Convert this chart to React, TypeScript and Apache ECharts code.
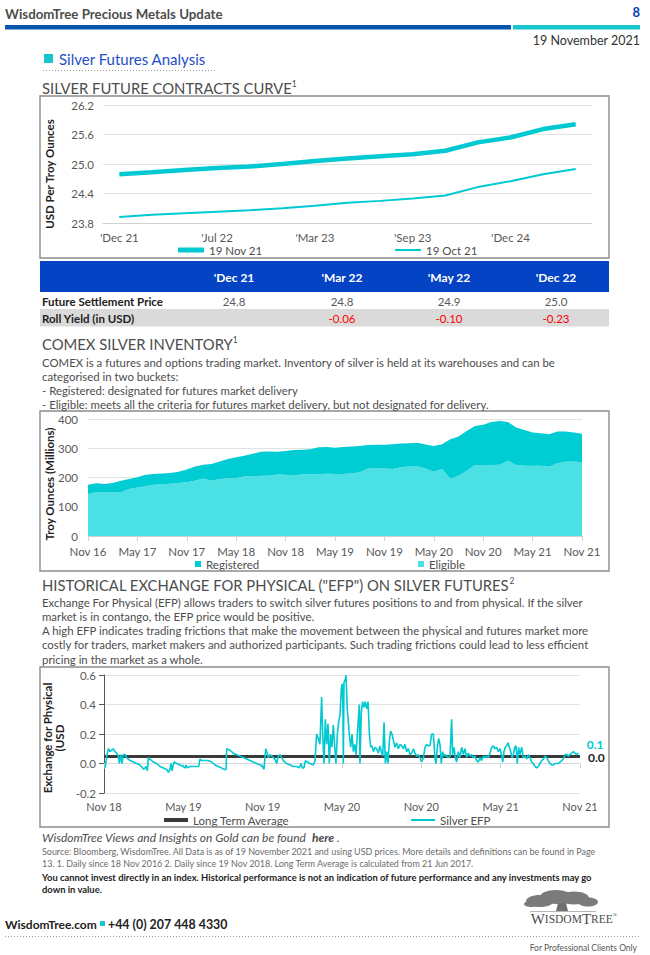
import React, { useEffect, useRef } from "react";
import * as echarts from "echarts";

// ---------- DATA ----------
const contractMonths = ["'Dec 21", "'Mar 22", "'May 22", "'Jul 22", "'Sep 22", "'Dec 22", "'Mar 23", "'May 23", "'Jul 23", "'Sep 23", "'Dec 23", "'Jul 24", "'Dec 24", "'Jul 25", "'Dec 25"];
const curveNov19 = [24.79, 24.83, 24.88, 24.92, 24.95, 25.0, 25.06, 25.11, 25.16, 25.2, 25.27, 25.44, 25.54, 25.71, 25.81];
const curveOct19 = [23.92, 23.97, 24.0, 24.03, 24.06, 24.1, 24.15, 24.21, 24.25, 24.3, 24.36, 24.53, 24.65, 24.79, 24.9];

const tableCols = ["'Dec 21", "'Mar 22", "'May 22", "'Dec 22"];
const settlePrice = [24.8, 24.8, 24.9, 25.0];
const rollYield = [null, -0.06, -0.1, -0.23];

const eligible = [144, 150, 150, 150, 150, 161, 166, 170, 175, 177, 179, 181, 184, 189, 197, 189, 195, 197, 198, 203, 204, 206, 206, 210, 209, 206, 211, 211, 211, 213, 212, 212, 214, 218, 231, 232, 231, 229, 235, 238, 238, 231, 220, 229, 196, 206, 223, 243, 240, 243, 244, 257, 243, 240, 240, 240, 237, 249, 254, 255, 252];
const registered = [31, 30, 28, 31, 39, 34, 35, 39, 37, 37, 36, 39, 43, 49, 47, 57, 60, 66, 71, 71, 77, 82, 83, 78, 82, 88, 84, 86, 92, 91, 90, 92, 92, 90, 80, 80, 81, 85, 81, 79, 81, 82, 88, 85, 135, 134, 136, 133, 140, 147, 149, 133, 128, 122, 114, 111, 111, 108, 103, 99, 98];

const efpTickLabels = ["Nov 18", "May 19", "Nov 19", "May 20", "Nov 20", "May 21", "Nov 21"];
const longTermAverage = 0.047;
// [months since 18 Nov 2018, EFP in USD]
const silverEfp = [
  [0.08, -0.03], [0.15, 0.01], [0.25, 0.07], [0.33, 0.1], [0.45, 0.08], [0.71, 0.1], [0.83, 0.08], [0.96, 0.07], [1.08, 0.05], [1.16, 0.0], [1.26, 0.06], [1.36, 0.0], [1.46, 0.06], [1.59, 0.06], [1.71, 0.04], [1.97, 0.02], [2.22, 0.01], [2.47, 0.0], [2.72, -0.01], [2.92, -0.03], [3.02, -0.04], [3.18, -0.02], [3.28, -0.05], [3.35, 0.04], [3.48, 0.03], [3.73, 0.01], [3.98, 0.0], [4.23, -0.02], [4.49, -0.03], [4.74, -0.04], [4.87, -0.06], [4.99, -0.04], [5.07, 0.0], [5.14, -0.05], [5.29, 0.01], [5.5, 0.0], [5.75, -0.01], [6.0, -0.02], [6.13, -0.03], [6.2, -0.01], [6.3, -0.03], [6.5, -0.02], [6.88, -0.02], [7.16, -0.02], [7.26, 0.03], [7.39, 0.02], [7.64, 0.02], [7.89, 0.02], [8.14, 0.01], [8.39, -0.01], [8.65, -0.02], [8.9, -0.03], [9.07, -0.04], [9.23, -0.04], [9.28, 0.1], [9.53, 0.09], [9.78, 0.07], [10.03, 0.06], [10.28, 0.05], [10.54, 0.04], [10.79, 0.03], [11.04, 0.02], [11.29, 0.01], [11.55, 0.0], [11.8, -0.01], [12.0, -0.02], [12.1, -0.04], [12.23, 0.1], [12.35, 0.07], [12.43, 0.04], [12.55, 0.06], [12.68, 0.05], [12.81, 0.04], [12.93, 0.03], [13.06, 0.0], [13.18, 0.05], [13.31, 0.06], [13.44, 0.04], [13.56, 0.02], [13.81, 0.0], [14.07, -0.01], [14.32, -0.02], [14.57, -0.02], [14.77, -0.03], [14.9, 0.0], [15.0, -0.03], [15.12, -0.03], [15.23, 0.02], [15.38, 0.01], [15.58, 0.0], [15.83, -0.01], [15.96, 0.02],
  [16.08, 0.2], [16.21, 0.17], [16.33, 0.13], [16.46, 0.45], [16.54, 0.2], [16.64, 0.0], [16.74, 0.3], [16.84, 0.13], [16.94, 0.27], [17.04, 0.0], [17.14, 0.2], [17.24, 0.11], [17.34, 0.26], [17.44, 0.13], [17.54, 0.0], [17.65, 0.2], [17.75, 0.28], [17.85, 0.33], [17.95, 0.51], [18.02, 0.54], [18.07, 0.37], [18.1, 0.0], [18.15, 0.55], [18.25, 0.57], [18.3, 0.6], [18.4, 0.37], [18.55, 0.2], [18.66, 0.11], [18.76, 0.2], [18.86, 0.08], [18.96, 0.13], [19.06, 0.06], [19.16, 0.2], [19.26, 0.33], [19.31, 0.4], [19.36, 0.0], [19.46, 0.35], [19.56, 0.42], [19.66, 0.38], [19.76, 0.42], [19.87, 0.37], [19.97, 0.42], [20.07, 0.2], [20.17, 0.11], [20.27, 0.12], [20.37, 0.08], [20.5, 0.11], [20.62, 0.1], [20.75, 0.07], [20.87, 0.12], [20.97, 0.08], [21.08, 0.05], [21.18, 0.28], [21.28, 0.0], [21.38, 0.08], [21.48, 0.0], [21.58, 0.15], [21.68, 0.22], [21.78, 0.2], [21.88, 0.16], [22.01, 0.11], [22.13, 0.14], [22.26, 0.1], [22.39, 0.13], [22.51, 0.12], [22.64, 0.1], [22.76, 0.13], [22.89, 0.08], [23.02, 0.1], [23.14, 0.06], [23.27, 0.07], [23.4, 0.1], [23.52, 0.07], [23.65, 0.05], [23.77, 0.06], [23.9, 0.04], [24.02, 0.01], [24.15, 0.04], [24.28, 0.11], [24.4, 0.13], [24.53, 0.12], [24.65, 0.12], [24.78, 0.2], [24.91, 0.2], [25.03, 0.04], [25.11, 0.0], [25.21, 0.11], [25.31, 0.17], [25.41, 0.13], [25.51, 0.0], [25.61, 0.08], [25.71, 0.05], [25.81, 0.06], [25.91, 0.05], [26.04, 0.04], [26.17, 0.05], [26.29, 0.3], [26.37, 0.06], [26.47, 0.11], [26.57, 0.04], [26.67, 0.01], [26.8, 0.08], [26.92, 0.04], [27.05, 0.11], [27.18, 0.06], [27.3, 0.1], [27.43, 0.04], [27.55, 0.07], [27.68, 0.05], [27.81, 0.06], [27.93, 0.04], [28.06, 0.05], [28.18, 0.02], [28.31, 0.01], [28.44, 0.04], [28.56, 0.02], [28.69, 0.05], [28.81, 0.04], [28.94, 0.05], [29.07, 0.04], [29.19, 0.07], [29.32, 0.11], [29.45, 0.12], [29.57, 0.1], [29.7, 0.11], [29.82, 0.08], [29.95, 0.1], [30.08, 0.05], [30.15, 0.01], [30.25, 0.08], [30.35, 0.11], [30.45, 0.12], [30.55, 0.14], [30.66, 0.11], [30.76, 0.08], [30.86, 0.04], [30.96, 0.06], [31.06, 0.11], [31.16, 0.12], [31.26, 0.0], [31.36, 0.11], [31.46, 0.06], [31.59, 0.11], [31.71, 0.04], [31.84, 0.05], [31.97, 0.03], [32.09, 0.06], [32.22, 0.04], [32.34, 0.01], [32.47, 0.0], [32.6, -0.02], [32.72, -0.03], [32.85, -0.02], [32.97, 0.0], [33.1, 0.02], [33.23, 0.03], [33.35, 0.05], [33.48, 0.04], [33.6, 0.02], [33.73, 0.0], [33.86, -0.01], [33.98, -0.01], [34.11, 0.0], [34.23, 0.0], [34.36, 0.0], [34.49, 0.01], [34.61, 0.02], [34.74, 0.03], [34.86, 0.06], [34.99, 0.06], [35.12, 0.05], [35.24, 0.06], [35.37, 0.07], [35.5, 0.08], [35.62, 0.07], [35.75, 0.06], [35.9, 0.07],
];

const comexText = [
  "COMEX is a futures and options trading market. Inventory of silver is held at its warehouses and can be",
  "categorised in two buckets:",
  "- Registered: designated for futures market delivery",
  "- Eligible: meets all the criteria for futures market delivery, but not designated for delivery.",
];
const efpText = [
  "Exchange For Physical (EFP) allows traders to switch silver futures positions to and from physical. If the silver",
  "market is in contango, the EFP price would be positive.",
  "A high EFP indicates trading frictions that make the movement between the physical and futures market more",
  "costly for traders, market makers and authorized participants. Such trading frictions could lead to less efficient",
  "pricing in the market as a whole.",
];
const sourceText = [
  "Source: Bloomberg, WisdomTree. All Data is as of 19 November 2021 and using USD prices. More details and definitions can be found in Page",
  "13. 1. Daily since 18 Nov 2016 2. Daily since 19 Nov 2018. Long Term Average is calculated from 21 Jun 2017.",
];
const disclaimerText = [
  "You cannot invest directly in an index. Historical performance is not an indication of future performance and any investments may go",
  "down in value.",
];

// ---------- STYLE ----------
const FONT = "Lato, 'Noto Sans', sans-serif";
const TEAL = "#00c9d1";
const TEAL_LIGHT = "#4ae0e4";
const TITLE_BLUE = "#1f4fc4";
const AXIS_TXT = "#595959";
const BODY_TXT = "#4d4d4d";

const monthNames = ["Jan", "Feb", "Mar", "Apr", "May", "Jun", "Jul", "Aug", "Sep", "Oct", "Nov", "Dec"];
function monthLabels(year: number, month: number, n: number) {
  const out: string[] = [];
  for (let i = 0; i < n; i++) {
    const m = (month + i) % 12;
    const y = year + Math.floor((month + i) / 12);
    out.push(monthNames[m] + " " + String(y % 100).padStart(2, "0"));
  }
  return out;
}
const inventoryMonths = monthLabels(2016, 10, eligible.length);

function txt(x: number, y: number, text: string, o: any = {}) {
  return {
    type: "text",
    x,
    y,
    rotation: o.rotation || 0,
    z: 10,
    style: {
      text,
      fill: o.fill || BODY_TXT,
      fontSize: o.size || 11,
      fontWeight: o.weight || "normal",
      fontStyle: o.style || "normal",
      fontFamily: o.family || FONT,
      align: o.align || "left",
      verticalAlign: "middle",
      lineHeight: o.lineHeight,
      rich: o.rich,
    },
  };
}

function title(x: number, y: number, text: string, sup: string) {
  return txt(x, y, `{t|${text}}{s|${sup}}`, {
    rich: {
      t: { fontSize: 14.8, fontFamily: FONT, color: TITLE_BLUE, lineHeight: 18 },
      s: { fontSize: 8.5, fontFamily: FONT, color: TITLE_BLUE, verticalAlign: "top", lineHeight: 18, padding: [0, 0, 8, 0] },
    },
  });
}

function box(y: number, h: number) {
  return { type: "rect", z: 5, shape: { x: 40, y, width: 569, height: h }, style: { fill: "none", stroke: "#8c8c8c", lineWidth: 1.4 } };
}

function legendItem(name: string, left: number, top: number, extra: any = {}) {
  return {
    data: [name],
    left,
    top,
    padding: 0,
    selectedMode: false,
    itemWidth: 26,
    itemHeight: 4,
    icon: "rect",
    textStyle: { color: BODY_TXT, fontSize: 11.5, fontFamily: FONT },
    ...extra,
  };
}

const axisLabelStyle = { color: AXIS_TXT, fontSize: 11.5, fontFamily: FONT };
const gridLine = { show: true, lineStyle: { color: "#e2e2e2", width: 1 } };

export default function App() {
  const ref = useRef<HTMLDivElement>(null);
  useEffect(() => {
    if (!ref.current) return;
    const chart = echarts.init(ref.current, null, { renderer: "svg" });

    const colX = [234, 342, 449, 556];
    const graphic: any[] = [];
    // header
    graphic.push(txt(5, 14, "{a|WisdomTree }{b|Precious Metals Update}", {
      rich: {
        a: { fontSize: 13.3, fontWeight: "bold", fontFamily: FONT, color: "#222" },
        b: { fontSize: 13.3, fontWeight: "bold", fontFamily: FONT, color: "#0a3cb4" },
      },
    }));
    graphic.push(txt(640, 12, "8", { align: "right", weight: "bold", fill: "#0a3cb4", size: 13 }));
    graphic.push({ type: "rect", shape: { x: 5, y: 25, width: 506, height: 4.5 }, style: { fill: "#0656b0" } });
    graphic.push({ type: "rect", shape: { x: 513, y: 25, width: 127, height: 4.5 }, style: { fill: "#19c5cc" } });
    graphic.push(txt(640, 40, "19 November 2021", { align: "right", size: 12.5, fill: "#333" }));
    graphic.push({ type: "rect", shape: { x: 44, y: 54, width: 9, height: 9 }, style: { fill: "#19c5cc" } });
    graphic.push(txt(59, 59, "Silver Futures Analysis", { size: 15, fill: TITLE_BLUE }));
    graphic.push({ type: "line", shape: { x1: 43, y1: 70.5, x2: 217, y2: 70.5 }, style: { stroke: "#9a9a9a", lineWidth: 1, lineDash: [1, 2] } });

    // section 1
    graphic.push(title(42, 88, "SILVER FUTURE CONTRACTS CURVE", "1"));
    graphic.push(box(96, 162));
    graphic.push(txt(49, 174, "USD Per Troy Ounces", { rotation: Math.PI / 2, align: "center", weight: "bold", fill: "#222", size: 11.5 }));

    // table
    graphic.push({ type: "rect", shape: { x: 40, y: 261, width: 569, height: 31 }, style: { fill: "#0443c3" } });
    graphic.push({ type: "rect", shape: { x: 40, y: 309, width: 569, height: 17.5 }, style: { fill: "#dadada" } });
    tableCols.forEach((c, i) => {
      graphic.push(txt(colX[i], 277, c, { align: "center", weight: "bold", fill: "#fff", size: 12 }));
      graphic.push(txt(colX[i], 301, settlePrice[i].toFixed(1), { align: "center", fill: "#595959", size: 11.5 }));
      const ry = rollYield[i];
      if (ry !== null) graphic.push(txt(colX[i], 318, ry.toFixed(2), { align: "center", fill: "#ff0000", size: 11.5 }));
    });
    graphic.push(txt(42, 301, "Future Settlement Price", { weight: "bold", fill: "#222", size: 11.5 }));
    graphic.push(txt(42, 318, "Roll Yield (in USD)", { weight: "bold", fill: "#222", size: 11.5 }));

    // section 2
    graphic.push(title(42, 344, "COMEX SILVER INVENTORY", "1"));
    comexText.forEach((l, i) => graphic.push(txt(42, 362 + i * 14.2, l, { size: 11.4 })));
    graphic.push(box(411, 160));
    graphic.push(txt(49, 484, "Troy Ounces (Millions)", { rotation: Math.PI / 2, align: "center", weight: "bold", fill: "#222", size: 11.5 }));

    // section 3
    graphic.push(title(42, 585, 'HISTORICAL EXCHANGE FOR PHYSICAL ("EFP") ON SILVER FUTURES', "2"));
    efpText.forEach((l, i) => graphic.push(txt(42, 602 + i * 14.3, l, { size: 11.4 })));
    graphic.push(box(667, 160));
    graphic.push(txt(53, 738, "Exchange for Physical\n(USD", { rotation: Math.PI / 2, align: "center", weight: "bold", fill: "#222", size: 11.5, lineHeight: 12 }));

    // footer
    graphic.push(txt(42, 837, "{a|WisdomTree Views and Insights on Gold can be found  }{b|here}{a| .}", {
      rich: {
        a: { fontSize: 12, fontStyle: "italic", fontFamily: FONT, color: TITLE_BLUE },
        b: { fontSize: 12, fontStyle: "italic", fontWeight: "bold", fontFamily: FONT, color: "#0a2fa8" },
      },
    }));
    sourceText.forEach((l, i) => graphic.push(txt(42, 851 + i * 12.5, l, { size: 8.95, fill: "#6b6b6b" })));
    disclaimerText.forEach((l, i) => graphic.push(txt(42, 877 + i * 12.5, l, { size: 9.4, weight: "bold", fill: "#222" })));

    graphic.push(txt(5, 924, "WisdomTree.com", { size: 12, weight: "bold", fill: "#222" }));
    graphic.push({ type: "rect", shape: { x: 100, y: 921, width: 5, height: 5 }, style: { fill: "#19c5cc" } });
    graphic.push(txt(108, 924, "+44 (0) 207 448 4330", { size: 12.4, weight: "bold", fill: "#222" }));
    graphic.push({ type: "line", shape: { x1: 5, y1: 936.5, x2: 640, y2: 936.5 }, style: { stroke: "#9a9a9a", lineWidth: 1, lineDash: [1, 2] } });
    graphic.push(txt(637, 948, "For Professional Clients Only", { size: 8.5, fill: "#555", align: "right" }));

    // logo (tree + wordmark)
    const canopy = [[540, 901, 14, 6], [556, 897, 16, 7], [574, 898, 15, 6.5], [588, 902, 10, 4.5], [531, 904, 7, 3]];
    canopy.forEach(([cx, cy, rx, ry]) => graphic.push({ type: "ellipse", shape: { cx, cy, rx, ry }, style: { fill: "#7b7b7b" } }));
    graphic.push({ type: "polygon", shape: { points: [[558, 903], [566, 903], [568, 911], [556, 911]] }, style: { fill: "#6f6f6f" } });
    graphic.push({ type: "line", shape: { x1: 530, y1: 911.5, x2: 596, y2: 911.5 }, style: { stroke: "#b5b5b5", lineWidth: 1 } });
    graphic.push(txt(574, 919, "{b|W}{s|ISDOM}{b|T}{s|REE}{r|®}", {
      align: "center",
      rich: {
        b: { fontSize: 15, fontFamily: "'Liberation Serif', 'DejaVu Serif', serif", color: "#6b6b6b" },
        s: { fontSize: 11.5, fontFamily: "'Liberation Serif', 'DejaVu Serif', serif", color: "#6b6b6b" },
        r: { fontSize: 6, fontFamily: "'Liberation Serif', serif", color: "#6b6b6b", verticalAlign: "top" },
      },
    }));

    const option: any = {
      animation: false,
      backgroundColor: "#fff",
      textStyle: { fontFamily: FONT },
      grid: [
        { left: 103, top: 105, width: 489, height: 118 },
        { left: 88, top: 419, width: 494, height: 117 },
        { left: 104, top: 675, width: 476, height: 118 },
      ],
      legend: [
        legendItem("19 Nov 21", 178, 244, { itemHeight: 5 }),
        legendItem("19 Oct 21", 395, 244, { itemHeight: 2 }),
        legendItem("Registered", 195, 558, { itemWidth: 6, itemHeight: 6 }),
        legendItem("Eligible", 418, 558, { itemWidth: 6, itemHeight: 6 }),
        legendItem("Long Term Average", 164, 814, { itemWidth: 24, itemHeight: 4 }),
        legendItem("Silver EFP", 411, 814, { itemWidth: 24, itemHeight: 2 }),
      ],
      xAxis: [
        {
          gridIndex: 0,
          type: "category",
          data: contractMonths,
          boundaryGap: true,
          axisLine: { lineStyle: { color: "#d0d0d0" } },
          axisTick: { interval: 0, lineStyle: { color: "#d0d0d0" } },
          axisLabel: { ...axisLabelStyle, interval: 2 },
        },
        {
          gridIndex: 1,
          type: "category",
          data: inventoryMonths,
          boundaryGap: false,
          axisLine: { lineStyle: { color: "#d0d0d0" } },
          axisTick: { interval: 5, lineStyle: { color: "#d0d0d0" } },
          axisLabel: { ...axisLabelStyle, interval: 5, margin: 9 },
        },
        {
          gridIndex: 2,
          type: "value",
          min: 0,
          max: 36,
          interval: 6,
          axisLine: { show: false, onZero: false },
          axisTick: { show: false },
          splitLine: { show: false },
          axisLabel: { ...axisLabelStyle, fontSize: 11, margin: 8, formatter: (v: number) => efpTickLabels[Math.round(v / 6)] },
        },
        {
          gridIndex: 2,
          type: "value",
          min: 0,
          max: 36,
          interval: 6,
          position: "bottom",
          axisLine: { show: true, onZero: true, lineStyle: { color: "#d8d8d8" } },
          axisTick: { show: true, lineStyle: { color: "#d0d0d0" } },
          axisLabel: { show: false },
          splitLine: { show: false },
        },
      ],
      yAxis: [
        {
          gridIndex: 0,
          type: "value",
          min: 23.8,
          max: 26.2,
          interval: 0.6,
          axisLabel: { ...axisLabelStyle, margin: 9, formatter: (v: number) => v.toFixed(1) },
          splitLine: gridLine,
        },
        {
          gridIndex: 1,
          type: "value",
          min: 0,
          max: 400,
          interval: 100,
          axisLabel: { ...axisLabelStyle, margin: 10 },
          splitLine: gridLine,
        },
        {
          gridIndex: 2,
          type: "value",
          min: -0.2,
          max: 0.6,
          interval: 0.2,
          axisLabel: { ...axisLabelStyle, margin: 8, formatter: (v: number) => v.toFixed(1) },
          splitLine: gridLine,
        },
      ],
      series: [
        { name: "19 Nov 21", type: "line", xAxisIndex: 0, yAxisIndex: 0, data: curveNov19, symbol: "none", lineStyle: { color: TEAL, width: 4.5 }, itemStyle: { color: TEAL } },
        { name: "19 Oct 21", type: "line", xAxisIndex: 0, yAxisIndex: 0, data: curveOct19, symbol: "none", lineStyle: { color: TEAL, width: 2 }, itemStyle: { color: TEAL } },
        { name: "Eligible", type: "line", xAxisIndex: 1, yAxisIndex: 1, stack: "inv", data: eligible, symbol: "none", lineStyle: { width: 0 }, areaStyle: { color: TEAL_LIGHT, opacity: 1 }, itemStyle: { color: TEAL_LIGHT } },
        { name: "Registered", type: "line", xAxisIndex: 1, yAxisIndex: 1, stack: "inv", data: registered, symbol: "none", lineStyle: { width: 0 }, areaStyle: { color: "#00ccd4", opacity: 1 }, itemStyle: { color: "#00ccd4" } },
        {
          name: "Long Term Average", type: "line", xAxisIndex: 2, yAxisIndex: 2,
          data: [[0, longTermAverage], [36, longTermAverage]], symbol: "none",
          lineStyle: { color: "#3a3a3a", width: 3 }, itemStyle: { color: "#3a3a3a" }, z: 3,
          endLabel: { show: true, formatter: (p: any) => p.value[1].toFixed(1), color: "#222", fontWeight: "bold", fontSize: 12, fontFamily: FONT, distance: 8, offset: [0, 1] },
        },
        {
          name: "Silver EFP", type: "line", xAxisIndex: 2, yAxisIndex: 2, data: silverEfp, symbol: "none",
          lineStyle: { color: TEAL, width: 1.6 }, itemStyle: { color: TEAL }, z: 4,
          endLabel: { show: true, formatter: (p: any) => p.value[1].toFixed(1), color: TEAL, fontWeight: "bold", fontSize: 12, fontFamily: FONT, distance: 8, offset: [0, -9] },
        },
      ],
      graphic,
    };
    chart.setOption(option);
    return () => chart.dispose();
  }, []);
  return <div ref={ref} style={{ position: "absolute", left: 0, top: 0, width: 650, height: 955 }} />;
}
